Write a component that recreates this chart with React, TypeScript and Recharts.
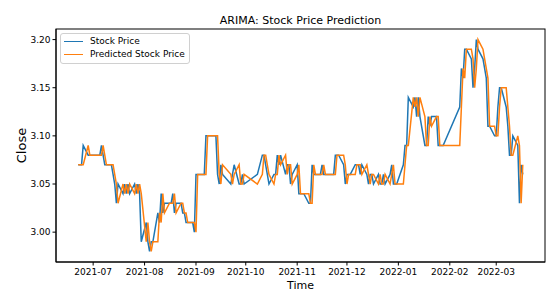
import React from 'react';
import { LineChart, Line, XAxis, YAxis } from 'recharts';

// Trading days shown on the chart
const tradeDates: string[] = [
  '2021-06-22', '2021-06-23', '2021-06-24', '2021-06-25', '2021-06-28', '2021-06-29', '2021-06-30',
  '2021-07-01', '2021-07-02', '2021-07-05', '2021-07-06', '2021-07-07', '2021-07-08', '2021-07-09',
  '2021-07-12', '2021-07-13', '2021-07-14', '2021-07-15', '2021-07-16',
  '2021-07-19', '2021-07-20', '2021-07-21', '2021-07-22', '2021-07-23',
  '2021-07-26', '2021-07-27', '2021-07-28', '2021-07-29', '2021-07-30',
  '2021-08-02', '2021-08-03', '2021-08-04', '2021-08-05', '2021-08-06',
  '2021-08-09', '2021-08-10', '2021-08-11', '2021-08-12', '2021-08-13',
  '2021-08-16', '2021-08-17', '2021-08-18', '2021-08-19', '2021-08-20',
  '2021-08-23', '2021-08-24', '2021-08-25', '2021-08-26', '2021-08-27',
  '2021-08-30', '2021-08-31', '2021-09-01', '2021-09-02', '2021-09-03',
  '2021-09-06', '2021-09-07', '2021-09-08', '2021-09-09', '2021-09-10',
  '2021-09-13', '2021-09-14', '2021-09-15', '2021-09-16', '2021-09-17',
  '2021-09-22', '2021-09-23', '2021-09-24',
  '2021-09-27', '2021-09-28', '2021-09-29', '2021-09-30',
  '2021-10-08',
  '2021-10-11', '2021-10-12', '2021-10-13', '2021-10-14', '2021-10-15',
  '2021-10-18', '2021-10-19', '2021-10-20', '2021-10-21', '2021-10-22',
  '2021-10-25', '2021-10-26', '2021-10-27', '2021-10-28', '2021-10-29',
  '2021-11-01', '2021-11-02', '2021-11-03', '2021-11-04', '2021-11-05',
  '2021-11-08', '2021-11-09', '2021-11-10', '2021-11-11', '2021-11-12',
  '2021-11-15', '2021-11-16', '2021-11-17', '2021-11-18', '2021-11-19',
  '2021-11-22', '2021-11-23', '2021-11-24', '2021-11-25', '2021-11-26',
  '2021-11-29', '2021-11-30', '2021-12-01', '2021-12-02', '2021-12-03',
  '2021-12-06', '2021-12-07', '2021-12-08', '2021-12-09', '2021-12-10',
  '2021-12-13', '2021-12-14', '2021-12-15', '2021-12-16', '2021-12-17',
  '2021-12-20', '2021-12-21', '2021-12-22', '2021-12-23', '2021-12-24',
  '2021-12-27', '2021-12-28', '2021-12-29', '2021-12-30', '2021-12-31',
  '2022-01-04', '2022-01-05', '2022-01-06', '2022-01-07',
  '2022-01-10', '2022-01-11', '2022-01-12', '2022-01-13', '2022-01-14',
  '2022-01-17', '2022-01-18', '2022-01-19', '2022-01-20', '2022-01-21',
  '2022-01-24', '2022-01-25', '2022-01-26', '2022-01-27', '2022-01-28',
  '2022-02-07', '2022-02-08', '2022-02-09', '2022-02-10', '2022-02-11',
  '2022-02-14', '2022-02-15', '2022-02-16', '2022-02-17', '2022-02-18',
  '2022-02-21', '2022-02-22', '2022-02-23', '2022-02-24', '2022-02-25',
  '2022-02-28', '2022-03-01', '2022-03-02', '2022-03-03', '2022-03-04',
  '2022-03-07', '2022-03-08', '2022-03-09', '2022-03-10', '2022-03-11',
  '2022-03-14', '2022-03-15', '2022-03-16', '2022-03-17',
];

// Closing price
const stockPrice: number[] = [
  3.07, 3.07, 3.07, 3.09, 3.08, 3.08, 3.08,
  3.08, 3.08, 3.08, 3.09, 3.08, 3.07, 3.07,
  3.07, 3.06, 3.05, 3.03, 3.05,
  3.04, 3.05, 3.04, 3.05, 3.04,
  3.05, 3.04, 3.05, 3.04, 2.99,
  3.01, 2.99, 2.98, 2.99, 2.99,
  3.02, 3.01, 3.04, 3.02, 3.03,
  3.03, 3.03, 3.04, 3.02, 3.03,
  3.03, 3.02, 3.02, 3.01, 3.01,
  3.01, 3.00, 3.06, 3.06, 3.06,
  3.06, 3.10, 3.10, 3.10, 3.10,
  3.10, 3.06, 3.05, 3.07, 3.06,
  3.05, 3.06, 3.07,
  3.05, 3.05, 3.06, 3.05,
  3.06,
  3.08, 3.08, 3.07, 3.06, 3.05,
  3.06, 3.06, 3.08, 3.07, 3.08,
  3.06, 3.07, 3.07, 3.05, 3.06,
  3.07, 3.04, 3.04, 3.04, 3.04,
  3.03, 3.03, 3.07, 3.06, 3.06,
  3.06, 3.07, 3.06, 3.06, 3.06,
  3.06, 3.06, 3.08, 3.08, 3.08,
  3.07, 3.05, 3.06, 3.06, 3.06,
  3.07, 3.07, 3.07, 3.06, 3.07,
  3.06, 3.05, 3.06, 3.06, 3.05,
  3.06, 3.05, 3.05, 3.06, 3.05,
  3.06, 3.07, 3.05, 3.05, 3.05,
  3.07, 3.09, 3.09, 3.14,
  3.13, 3.14, 3.12, 3.14, 3.12,
  3.09, 3.09, 3.12, 3.11, 3.12,
  3.12, 3.09, 3.09, 3.09, 3.09,
  3.13, 3.17, 3.16, 3.19, 3.19,
  3.18, 3.15, 3.17, 3.20, 3.19,
  3.18, 3.17, 3.16, 3.11, 3.11,
  3.10, 3.10, 3.13, 3.15, 3.15,
  3.13, 3.11, 3.08, 3.08, 3.10,
  3.09, 3.03, 3.07, 3.06,
];

// ARIMA one-step-ahead forecast
const predictedPrice: number[] = [
  3.07, 3.07, 3.07, 3.07, 3.09, 3.08, 3.08,
  3.08, 3.08, 3.08, 3.08, 3.09, 3.08, 3.07,
  3.07, 3.07, 3.06, 3.05, 3.03,
  3.05, 3.04, 3.05, 3.04, 3.05,
  3.04, 3.05, 3.04, 3.05, 3.04,
  2.99, 3.01, 2.99, 2.98, 2.99,
  2.99, 3.02, 3.01, 3.04, 3.02,
  3.03, 3.03, 3.03, 3.04, 3.02,
  3.03, 3.03, 3.02, 3.02, 3.01,
  3.01, 3.01, 3.00, 3.06, 3.06,
  3.06, 3.06, 3.10, 3.10, 3.10,
  3.10, 3.10, 3.06, 3.05, 3.07,
  3.06, 3.05, 3.06,
  3.07, 3.05, 3.05, 3.06,
  3.05,
  3.06, 3.08, 3.08, 3.07, 3.06,
  3.05, 3.06, 3.06, 3.08, 3.07,
  3.08, 3.06, 3.07, 3.07, 3.05,
  3.06, 3.07, 3.04, 3.04, 3.04,
  3.04, 3.03, 3.03, 3.07, 3.06,
  3.06, 3.06, 3.07, 3.06, 3.06,
  3.06, 3.06, 3.06, 3.08, 3.08,
  3.08, 3.07, 3.05, 3.06, 3.06,
  3.06, 3.07, 3.07, 3.07, 3.06,
  3.07, 3.06, 3.05, 3.06, 3.06,
  3.05, 3.06, 3.05, 3.05, 3.06,
  3.05, 3.06, 3.07, 3.05, 3.05,
  3.05, 3.07, 3.09, 3.09,
  3.14, 3.13, 3.14, 3.12, 3.14,
  3.12, 3.09, 3.09, 3.12, 3.11,
  3.12, 3.12, 3.09, 3.09, 3.09,
  3.09, 3.13, 3.17, 3.16, 3.19,
  3.19, 3.18, 3.15, 3.17, 3.20,
  3.19, 3.18, 3.17, 3.16, 3.11,
  3.11, 3.10, 3.10, 3.13, 3.15,
  3.15, 3.13, 3.11, 3.08, 3.08,
  3.10, 3.09, 3.03, 3.07,
];

const monthTicks: string[] = [
  '2021-07', '2021-08', '2021-09', '2021-10', '2021-11', '2021-12', '2022-01', '2022-02', '2022-03',
];
const priceTicks: number[] = [3.0, 3.05, 3.1, 3.15, 3.2];

const seriesNames = ['Stock Price', 'Predicted Stock Price'];
const seriesColors = ['#1f77b4', '#ff7f0e'];

const FONT = '"DejaVu Sans", sans-serif';
const W = 556;
const H = 299;
const PLOT = { left: 56, top: 29, right: 545, bottom: 262 };

const toTime = (s: string): number => {
  const [y, m, d] = s.split('-').map(Number);
  return Date.UTC(y, m - 1, d || 1);
};

const fmtMonth = (t: number): string => {
  const dt = new Date(t);
  return `${dt.getUTCFullYear()}-${String(dt.getUTCMonth() + 1).padStart(2, '0')}`;
};

const rows = tradeDates.map((d, i) => ({
  t: toTime(d),
  close: stockPrice[i],
  predicted: predictedPrice[i],
}));

// matplotlib-style 5% margins around the data
const tMin = rows[0].t;
const tMax = rows[rows.length - 1].t;
const tPad = (tMax - tMin) * 0.05;
const xDomain: [number, number] = [tMin - tPad, tMax + tPad];

const allPrices = [...stockPrice, ...predictedPrice];
const pMin = Math.min(...allPrices);
const pMax = Math.max(...allPrices);
const pPad = (pMax - pMin) * 0.05;
const yDomain: [number, number] = [pMin - pPad, pMax + pPad];

const xTicks = monthTicks.map(toTime);

const tickStyle = { fontSize: 9, fill: '#000', fontFamily: FONT };
const axisLine = { stroke: '#000', strokeWidth: 1 };
const tickLine = { stroke: '#000', strokeWidth: 1 };

const LegendBox = () => (
  <div
    style={{
      position: 'absolute',
      left: 60,
      top: 33,
      background: 'rgba(255,255,255,0.8)',
      border: '1px solid #d0d0d0',
      borderRadius: 3,
      padding: '1px 4px 1px 3px',
      fontFamily: FONT,
      fontSize: 9,
      color: '#000',
      lineHeight: '13.3px',
      whiteSpace: 'nowrap',
    }}
  >
    {seriesNames.map((name, i) => (
      <div key={name} style={{ display: 'flex', alignItems: 'center', height: 13.3 }}>
        <span
          style={{
            display: 'inline-block',
            width: 19,
            height: 0,
            borderTop: `1.5px solid ${seriesColors[i]}`,
            marginRight: 7,
          }}
        />
        <span>{name}</span>
      </div>
    ))}
  </div>
);

export default function App() {
  const cx = (PLOT.left + PLOT.right) / 2;
  const cy = (PLOT.top + PLOT.bottom) / 2;
  return (
    <div style={{ position: 'absolute', left: 0, top: 0, width: W, height: H, background: '#fff' }}>
      <LineChart
        width={W}
        height={H}
        data={rows}
        margin={{ top: PLOT.top, right: W - PLOT.right, bottom: 0, left: 0 }}
      >
        <XAxis
          dataKey="t"
          type="number"
          scale="linear"
          domain={xDomain}
          ticks={xTicks}
          tickFormatter={fmtMonth}
          allowDataOverflow
          height={H - PLOT.bottom}
          tick={tickStyle}
          tickSize={3.5}
          tickMargin={3.5}
          axisLine={axisLine}
          tickLine={tickLine}
          interval={0}
        />
        <YAxis
          type="number"
          domain={yDomain}
          ticks={priceTicks}
          tickFormatter={(v: number) => v.toFixed(2)}
          allowDataOverflow
          width={PLOT.left}
          tick={tickStyle}
          tickSize={3.5}
          tickMargin={2}
          axisLine={axisLine}
          tickLine={tickLine}
          interval={0}
        />
        <Line
          dataKey="close"
          name={seriesNames[0]}
          stroke={seriesColors[0]}
          strokeWidth={1.5}
          dot={false}
          isAnimationActive={false}
        />
        <Line
          dataKey="predicted"
          name={seriesNames[1]}
          stroke={seriesColors[1]}
          strokeWidth={1.5}
          dot={false}
          isAnimationActive={false}
        />
      </LineChart>
      <svg
        width={W}
        height={H}
        style={{ position: 'absolute', left: 0, top: 0, pointerEvents: 'none' }}
      >
        {/* axes frame */}
        <rect
          x={PLOT.left}
          y={PLOT.top}
          width={PLOT.right - PLOT.left}
          height={PLOT.bottom - PLOT.top}
          fill="none"
          stroke="#000"
          strokeWidth={1}
        />
        <text x={cx} y={24} textAnchor="middle" fontFamily={FONT} fontSize={11} fill="#000">
          ARIMA: Stock Price Prediction
        </text>
        <text x={cx} y={289} textAnchor="middle" fontFamily={FONT} fontSize={11} fill="#000">
          Time
        </text>
        <text
          x={0}
          y={0}
          transform={`translate(26, ${cy}) rotate(-90)`}
          textAnchor="middle"
          fontFamily={FONT}
          fontSize={13}
          fill="#000"
        >
          Close
        </text>
      </svg>
      <LegendBox />
    </div>
  );
}
